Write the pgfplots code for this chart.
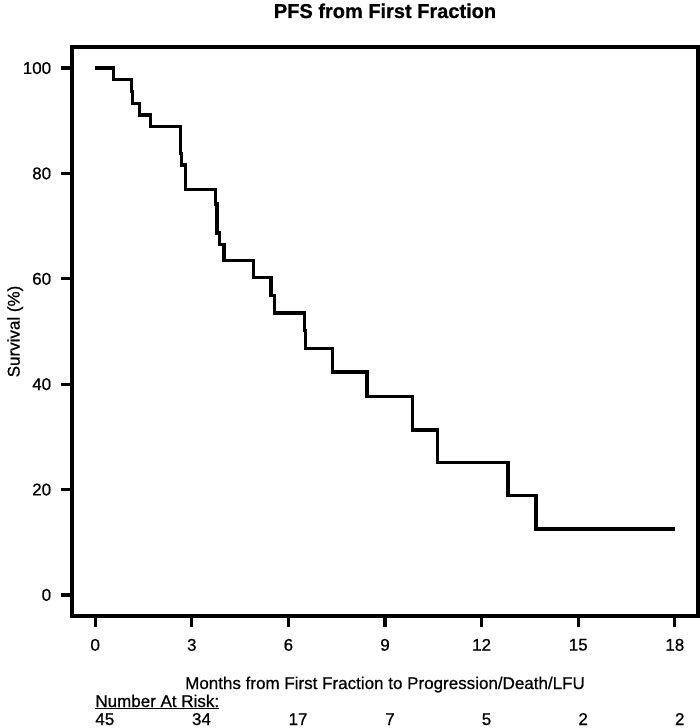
\documentclass[border=0pt]{standalone}
\usepackage{fontspec}
\setmainfont{Liberation Sans}[FakeBold=0.7]
\usepackage{pgfplots}
\pgfplotsset{compat=1.18}
\begin{document}
\fontsize{17}{19}\selectfont
\begin{tikzpicture}
\begin{axis}[
  at={(0pt,0pt)}, anchor=south west,
  scale only axis,
  width=626pt, height=569pt,
  xmin=-0.72, xmax=18.72,
  ymin=-4, ymax=104,
  xtick={0,3,...,18},
  ytick={0,20,...,100},
  axis line style={line width=3.2pt},
  tick style={line width=3.2pt, black},
  tick align=outside,
  major tick length=11pt,
  xtick pos=bottom, ytick pos=left,
  /pgf/number format/assume math mode=true,
  tick label style={font=\fontsize{17}{19}\selectfont},
  xticklabel style={yshift=-6pt},
  yticklabel style={xshift=-4pt},
  ylabel={Survival (\%)},
  ylabel style={font=\fontsize{17}{19}\selectfont, at={(rel axis cs:0,0.5)}, anchor=south, yshift=43pt},
  title={\bfseries PFS from First Fraction},
  title style={font=\fontsize{20}{22}\selectfont, at={(rel axis cs:0.5,1)}, anchor=base, yshift=23pt},
  clip=false,
]
\addplot[const plot, line width=3.2pt, black] coordinates {
  (0,100) (0.57,97.8) (1.12,95.6) (1.17,93.3) (1.38,91.1) (1.73,88.9)
  (2.64,83.8) (2.69,81.6) (2.80,77.0) (3.73,74.2) (3.78,68.7) (3.86,66.5)
  (4.00,63.5) (4.92,60.3) (5.46,56.8) (5.57,53.5) (6.49,50.2) (6.54,46.7)
  (7.38,42.3) (8.44,37.6) (9.85,31.3) (10.64,25.1) (12.82,18.8) (13.69,12.5)
  (18.0,12.5)
};
\node[anchor=base] at (axis cs:9,-4) [yshift=-73pt] {Months from First Fraction to Progression/Death/LFU};
\node[anchor=base west, inner sep=0pt] at (axis cs:0,-4) [yshift=-91pt] {\underline{Number At Risk:}};
\node[anchor=base west, inner sep=0pt] at (axis cs:0,-4) [yshift=-109pt] {45};
\node[anchor=base west, inner sep=0pt] at (axis cs:3,-4) [yshift=-109pt] {34};
\node[anchor=base west, inner sep=0pt] at (axis cs:6,-4) [yshift=-109pt] {17};
\node[anchor=base west, inner sep=0pt] at (axis cs:9,-4) [yshift=-109pt] {7};
\node[anchor=base west, inner sep=0pt] at (axis cs:12,-4) [yshift=-109pt] {5};
\node[anchor=base west, inner sep=0pt] at (axis cs:15,-4) [yshift=-109pt] {2};
\node[anchor=base west, inner sep=0pt] at (axis cs:18,-4) [yshift=-109pt] {2};
\end{axis}
\pgfresetboundingbox
\path (-72pt,-112pt) rectangle (628pt,616pt);
\end{tikzpicture}
\end{document}
